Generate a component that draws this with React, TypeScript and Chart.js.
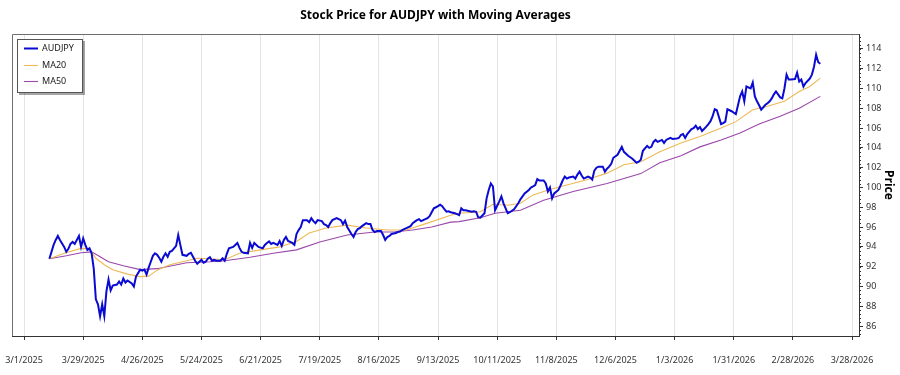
import { useEffect, useRef } from "react";
import { Chart, registerables } from "chart.js";

Chart.register(...registerables);

// ---- Data (x = days since 2025-03-01) ----
const chartTitle = "Stock Price for AUDJPY with Moving Averages";
const yAxisTitle = "Price";
const seriesNames = ["AUDJPY", "MA20", "MA50"];

const xTickDays = [0, 28, 56, 84, 112, 140, 168, 196, 224, 252, 280, 308, 336, 364, 392];
const xTickLabels = [
  "3/1/2025", "3/29/2025", "4/26/2025", "5/24/2025", "6/21/2025", "7/19/2025", "8/16/2025",
  "9/13/2025", "10/11/2025", "11/8/2025", "12/6/2025", "1/3/2026", "1/31/2026", "2/28/2026", "3/28/2026",
];
const yTickValues = [86, 88, 90, 92, 94, 96, 98, 100, 102, 104, 106, 108, 110, 112, 114];
const yMin = 85;
const yMax = 115.5;
const xMin = -5.7;
const xMax = 395.3;

const audjpy: [number, number][] = [
  [12, 92.8], [13, 93.5], [14, 94.2], [15, 94.7], [16, 95.1], [17, 94.7], [19, 94.0], [20, 93.5],
  [21, 93.8], [22, 94.3], [23, 94.5], [24, 94.3], [26, 95.1], [27, 94.0], [28, 94.85], [29, 94.2],
  [30, 93.7], [31, 93.85], [32, 93.35], [33, 91.8], [34, 88.7], [35, 88.2], [36, 87.0], [37, 88.2],
  [38, 87.0], [39, 89.5], [40, 90.7], [41, 89.6], [42, 90.1], [44, 90.2], [45, 90.5], [46, 90.2],
  [47, 90.8], [48, 90.4], [49, 90.6], [51, 90.3], [52, 90.0], [53, 91.0], [55, 91.7], [56, 91.6],
  [57, 91.7], [58, 91.2], [59, 91.9], [60, 92.5], [61, 93.1], [62, 93.35], [63, 93.2], [64, 92.9],
  [65, 92.5], [66, 93.0], [67, 93.35], [68, 93.0], [69, 93.5], [70, 93.6], [72, 94.1], [73, 95.2],
  [74, 94.2], [75, 93.2], [77, 93.1], [78, 93.3], [79, 93.4], [80, 93.0], [81, 92.6], [82, 92.3],
  [84, 92.7], [85, 92.4], [86, 92.5], [87, 92.8], [88, 92.95], [89, 92.6], [90, 92.7], [91, 92.6],
  [93, 92.6], [94, 92.85], [95, 92.6], [96, 93.3], [97, 93.85], [99, 94.0], [100, 94.2], [101, 94.4],
  [102, 93.9], [103, 93.5], [104, 93.4], [106, 93.35], [107, 94.4], [108, 93.9], [109, 94.4], [110, 94.2],
  [111, 94.0], [113, 93.85], [114, 94.2], [115, 94.4], [116, 94.55], [117, 94.3], [118, 94.4], [120, 94.2],
  [121, 94.6], [122, 94.1], [123, 94.7], [124, 95.0], [125, 94.6], [127, 94.4], [128, 94.2], [129, 95.3],
  [130, 95.7], [131, 96.0], [132, 96.7], [134, 96.7], [135, 96.5], [136, 96.9], [137, 96.6], [138, 96.4],
  [139, 96.7], [141, 96.6], [142, 96.3], [143, 96.2], [144, 96.0], [145, 96.4], [146, 96.7], [148, 96.9],
  [149, 96.8], [150, 96.7], [151, 96.3], [152, 96.65], [153, 96.0], [155, 95.3], [156, 95.0], [157, 95.5],
  [158, 95.8], [159, 95.9], [160, 96.1], [162, 96.4], [163, 96.3], [164, 96.3], [165, 95.7], [166, 95.5],
  [167, 95.6], [169, 95.6], [170, 95.2], [171, 94.7], [172, 95.0], [173, 95.1], [174, 95.3], [176, 95.4],
  [177, 95.5], [178, 95.55], [179, 95.7], [180, 95.8], [181, 95.9], [183, 96.1], [184, 96.4], [185, 96.55],
  [186, 96.7], [187, 96.8], [188, 96.6], [190, 96.8], [191, 96.9], [192, 97.1], [193, 97.5], [194, 97.9],
  [195, 98.0], [197, 98.25], [198, 98.1], [199, 97.8], [200, 97.55], [201, 97.6], [202, 97.5], [204, 97.4],
  [205, 97.3], [206, 97.2], [207, 97.9], [208, 97.7], [209, 97.7], [211, 97.6], [212, 97.55], [213, 97.6],
  [214, 97.55], [215, 97.0], [216, 96.95], [218, 97.4], [219, 98.9], [220, 99.75], [221, 100.4], [222, 100.1],
  [223, 97.7], [225, 98.6], [226, 99.1], [227, 98.4], [228, 97.9], [229, 97.4], [230, 97.5], [232, 97.8],
  [233, 98.1], [234, 98.4], [235, 98.8], [236, 99.1], [237, 99.4], [239, 99.75], [240, 100.0], [241, 100.1],
  [242, 100.25], [243, 100.85], [244, 100.7], [246, 100.7], [247, 100.4], [248, 99.6], [249, 100.0], [250, 98.9],
  [251, 99.4], [253, 99.75], [254, 100.2], [255, 100.7], [256, 101.1], [257, 100.9], [258, 101.0], [260, 101.1],
  [261, 100.9], [262, 101.3], [263, 101.6], [264, 101.2], [265, 100.9], [267, 101.1], [268, 101.0], [269, 100.8],
  [270, 101.7], [271, 102.0], [272, 102.1], [274, 102.1], [275, 101.6], [276, 101.9], [277, 102.1], [278, 102.4],
  [279, 103.0], [281, 103.3], [282, 103.7], [283, 104.1], [284, 103.6], [285, 103.4], [286, 103.2], [288, 102.9],
  [289, 102.7], [290, 102.5], [291, 102.6], [292, 102.8], [293, 103.7], [295, 104.2], [296, 104.0], [297, 104.1],
  [298, 104.6], [299, 104.8], [300, 104.6], [302, 104.8], [303, 104.5], [304, 104.8], [305, 104.9], [306, 105.0],
  [307, 104.9], [309, 104.95], [310, 105.0], [311, 105.3], [312, 105.4], [313, 105.0], [314, 105.4], [316, 105.9],
  [317, 106.0], [318, 106.25], [319, 105.9], [320, 106.1], [321, 105.7], [323, 106.15], [324, 106.4], [325, 106.7],
  [326, 107.2], [327, 107.9], [328, 107.8], [330, 106.4], [331, 106.5], [332, 106.65], [333, 107.9], [334, 107.8],
  [335, 107.7], [337, 107.4], [338, 108.3], [339, 109.2], [340, 109.7], [341, 108.7], [342, 110.2], [344, 110.0],
  [345, 110.6], [346, 109.2], [347, 108.7], [348, 108.3], [349, 107.85], [351, 108.35], [352, 108.5], [353, 108.7],
  [354, 109.0], [355, 109.4], [356, 109.7], [358, 109.1], [359, 109.0], [360, 110.0], [361, 111.4], [362, 110.9],
  [363, 110.9], [365, 110.95], [366, 111.6], [367, 110.7], [368, 110.9], [369, 110.2], [370, 110.55], [372, 111.0],
  [373, 111.4], [374, 112.2], [375, 113.4], [376, 112.65], [377, 112.5],
];

const ma20: [number, number][] = [
  [12, 92.8], [19, 93.35], [27, 93.85], [31, 93.8], [34, 92.85], [38, 92.2], [42, 91.7], [49, 91.25],
  [55, 91.0], [59, 91.05], [63, 91.65], [69, 92.2], [75, 92.5], [82, 92.85], [88, 92.8], [95, 92.7],
  [102, 93.35], [112, 93.7], [121, 94.0], [129, 94.55], [135, 95.4], [143, 95.9], [153, 96.2], [162, 95.9],
  [172, 95.7], [181, 95.7], [191, 96.4], [202, 97.2], [206, 97.4], [216, 97.55], [222, 98.3], [229, 98.2],
  [235, 98.4], [241, 99.25], [249, 99.8], [257, 100.25], [266, 100.75], [276, 101.45], [284, 102.3], [292, 102.6],
  [301, 103.6], [311, 104.5], [320, 105.15], [330, 106.0], [337, 106.65], [345, 107.85], [352, 108.2], [360, 108.7],
  [367, 109.7], [372, 110.2], [377, 111.05],
];

const ma50: [number, number][] = [
  [12, 92.8], [20, 93.1], [27, 93.4], [32, 93.5], [36, 93.0], [40, 92.5], [47, 92.1], [55, 91.7],
  [63, 91.8], [70, 92.1], [77, 92.4], [88, 92.5], [95, 92.6], [107, 92.95], [118, 93.35], [129, 93.7],
  [140, 94.5], [153, 95.2], [166, 95.5], [175, 95.5], [184, 95.7], [193, 96.0], [202, 96.5], [206, 96.55],
  [216, 96.95], [223, 97.4], [235, 97.7], [246, 98.7], [260, 99.6], [276, 100.4], [292, 101.4], [301, 102.5],
  [311, 103.2], [320, 104.1], [330, 104.8], [339, 105.5], [348, 106.4], [358, 107.2], [367, 108.0], [377, 109.2],
];

const seriesColors = ["#0a0ad2", "#eeb956", "#9a48aa"];
const seriesWidths = [2, 1.1, 1.1];

const FONT = "'Noto Sans', 'DejaVu Sans', sans-serif";

const toPoints = (arr: [number, number][]) => arr.map(([x, y]) => ({ x, y }));

const framePlugin = {
  id: "frameAndMinor",
  beforeDatasetsDraw(chart: any) {
    const { ctx, chartArea: a } = chart;
    ctx.save();
    ctx.strokeStyle = "#6e6e6e";
    ctx.lineWidth = 1;
    ctx.beginPath();
    ctx.moveTo(Math.round(a.left) + 0.5, a.bottom);
    ctx.lineTo(Math.round(a.left) + 0.5, Math.round(a.top) + 0.5);
    ctx.lineTo(a.right, Math.round(a.top) + 0.5);
    ctx.stroke();
    // minor ticks on the right axis
    const ys = chart.scales.y;
    ctx.strokeStyle = "#333";
    const step = 0.4;
    for (let k = Math.ceil(ys.min / step); k * step <= ys.max; k++) {
      const py = Math.round(ys.getPixelForValue(k * step)) + 0.5;
      ctx.beginPath();
      ctx.moveTo(a.right, py);
      ctx.lineTo(a.right + 2, py);
      ctx.stroke();
    }
    ctx.restore();
  },
};

const legendPlugin = {
  id: "boxLegend",
  afterDraw(chart: any) {
    const { ctx, chartArea: a } = chart;
    const x = Math.round(a.left) + 5;
    const y = Math.round(a.top) + 5;
    const w = 65;
    const h = 53;
    ctx.save();
    ctx.fillStyle = "rgba(0,0,0,0.35)";
    ctx.fillRect(x + 2, y + 2, w + 1, h + 1);
    ctx.fillStyle = "#ffffff";
    ctx.fillRect(x, y, w, h);
    ctx.strokeStyle = "#555";
    ctx.lineWidth = 1;
    ctx.strokeRect(x + 0.5, y + 0.5, w, h);
    chart.data.datasets.forEach((ds: any, i: number) => {
      const ry = Math.round(y + 9 + i * 16.5) + 0.5;
      ctx.strokeStyle = ds.borderColor;
      ctx.lineWidth = ds.borderWidth;
      ctx.beginPath();
      ctx.moveTo(x + 7, ry);
      ctx.lineTo(x + 21, ry);
      ctx.stroke();
      ctx.fillStyle = "#222";
      ctx.font = `9px ${FONT}`;
      ctx.textBaseline = "middle";
      ctx.textAlign = "left";
      ctx.fillText(ds.label, x + 25, ry);
    });
    ctx.restore();
  },
};

export default function App() {
  const canvasRef = useRef<HTMLCanvasElement | null>(null);

  useEffect(() => {
    if (!canvasRef.current) return;
    const chart = new Chart(canvasRef.current, {
      type: "line",
      data: {
        datasets: [audjpy, ma20, ma50].map((s, i) => ({
          label: seriesNames[i],
          data: toPoints(s),
          borderColor: seriesColors[i],
          backgroundColor: seriesColors[i],
          borderWidth: seriesWidths[i],
          pointRadius: 0,
          tension: 0,
          fill: false,
        })),
      },
      options: {
        responsive: false,
        animation: false,
        events: [],
        layout: { padding: { left: 12, right: 0, top: 0, bottom: 0 } },
        plugins: {
          legend: { display: false },
          tooltip: { enabled: false },
          title: {
            display: true,
            text: chartTitle,
            fullSize: false,
            color: "#000",
            font: { family: FONT, size: 12, weight: "bold" },
            padding: { top: 8, bottom: 11.6 },
          },
        },
        scales: {
          x: {
            type: "linear",
            min: xMin,
            max: xMax,
            afterBuildTicks: (scale: any) => {
              scale.ticks = xTickDays.map((v) => ({ value: v }));
            },
            afterFit: (scale: any) => {
              scale.height = 39;
              scale.paddingLeft = 0;
              scale.paddingRight = 0;
            },
            ticks: {
              autoSkip: false,
              maxRotation: 0,
              minRotation: 0,
              padding: 15,
              color: "#333",
              font: { family: FONT, size: 9 },
              callback: (value: any) => {
                const i = xTickDays.indexOf(Number(value));
                return i >= 0 ? xTickLabels[i] : "";
              },
            },
            grid: {
              color: "#e4e4e4",
              tickColor: "#333",
              tickLength: 4,
              drawOnChartArea: true,
            },
            border: { display: true, color: "#333", width: 1 },
          },
          y: {
            type: "linear",
            position: "right",
            min: yMin,
            max: yMax,
            afterBuildTicks: (scale: any) => {
              scale.ticks = yTickValues.map((v) => ({ value: v }));
            },
            afterFit: (scale: any) => {
              scale.width = 41;
            },
            ticks: {
              padding: 3,
              color: "#333",
              font: { family: FONT, size: 9 },
              callback: (value: any) => String(value),
            },
            grid: {
              drawOnChartArea: false,
              tickColor: "#333",
              tickLength: 4,
            },
            border: { display: true, color: "#333", width: 1 },
            title: {
              display: true,
              text: yAxisTitle,
              color: "#000",
              font: { family: FONT, size: 12, weight: "bold" },
              padding: { top: 4, bottom: 0 },
            },
          },
        },
      },
      plugins: [framePlugin, legendPlugin],
    } as any);
    return () => chart.destroy();
  }, []);

  return (
    <div style={{ position: "fixed", left: 0, top: 0, width: 900, height: 375, background: "#fff" }}>
      <canvas ref={canvasRef} width={900} height={375} style={{ display: "block" }} />
    </div>
  );
}
